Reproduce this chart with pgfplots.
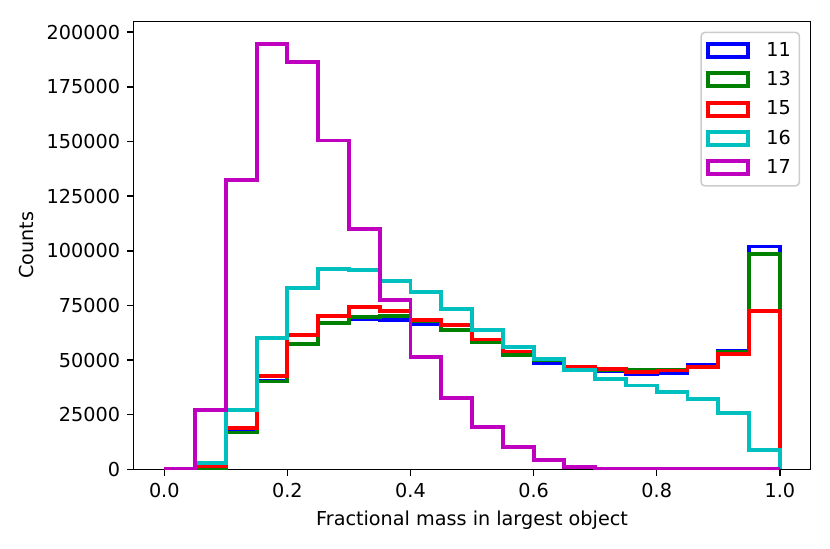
\documentclass[border=0pt]{standalone}
\usepackage{pgfplots}
\pgfplotsset{compat=1.18}
\usepackage{pgfplotstable}
\usepackage{fontspec}
\setmainfont{DejaVu Sans}
\definecolor{mblue}{rgb}{0,0,1}
\definecolor{mgreen}{rgb}{0,0.5,0}
\definecolor{mred}{rgb}{1,0,0}
\definecolor{mcyan}{rgb}{0,0.75,0.75}
\definecolor{mmag}{rgb}{0.75,0,0.75}
\pgfplotstableread{
x     b      g      r      c      m
0.00  0      0      0      0      0
0.00  0      0      0      0      0
0.05  800    800    1400   2900   27000
0.10  17000  16900  19000  27300  132400
0.15  40300  40200  42800  60000  194800
0.20  57600  57400  61500  82800  186400
0.25  66800  66800  70200  91600  150500
0.30  68600  69900  74100  91200  110000
0.35  68500  70000  72600  86300  77500
0.40  66500  67700  68500  81300  51500
0.45  63500  63900  66000  73400  32600
0.50  58100  58100  59400  63800  19300
0.55  53000  52500  53900  55800  10200
0.60  48500  49800  50500  50500  4100
0.65  46500  46000  47000  45500  1000
0.70  45000  45500  45800  41400  300
0.75  43400  45500  44400  38350  100
0.80  44000  45500  45200  35300  50
0.85  47900  46700  46700  32300  20
0.90  54000  53900  52800  25700  10
0.95  102000 98500  72600  9000   0
1.00  102000 98500  72600  9000   0
1.00  0      0      0      0      0
}\hist
\begin{document}
\fontsize{10}{12}\selectfont
\begin{tikzpicture}
\useasboundingbox (-69.5pt,-41pt) rectangle (362.5pt,244.3pt);
\begin{axis}[
  at={(0pt,0pt)}, anchor=south west,
  scale only axis, width=352.4pt, height=233.2pt,
  xmin=-0.05, xmax=1.05, ymin=0, ymax=205000,
  axis line style={line width=0.8pt},
  tick align=outside, xtick pos=left, ytick pos=left,
  major tick length=3.5pt,
  every tick/.style={line width=0.8pt, black},
  xtick={0,0.2,0.4,0.6,0.8,1.0},
  ytick={0,25000,50000,75000,100000,125000,150000,175000,200000},
  scaled y ticks=false,
  /pgf/number format/assume math mode=true,
  yticklabel style={/pgf/number format/fixed, /pgf/number format/1000 sep={}},
  xticklabel style={/pgf/number format/fixed, /pgf/number format/fixed zerofill, /pgf/number format/precision=1},
  ticklabel style={font=\fontsize{10}{12}\selectfont},
  label style={font=\fontsize{10}{12}\selectfont},
  xlabel={Fractional mass in largest object},
  ylabel={Counts},
  legend style={at={(1,1)}, anchor=north east, xshift=-5.4pt, yshift=-5.4pt,
    draw=black!20, rounded corners=2pt, line width=0.8pt,
    font=\fontsize{10}{12}\selectfont, row sep=2.4pt, inner xsep=2.5pt, inner ysep=3pt},
  legend cell align=left,
  legend image code/.code={\draw[#1, sharp corners, line join=miter, line width=2pt] (0pt,-3.4pt) rectangle (20.8pt,3.4pt); \path (27.5pt,0pt);},
  every axis plot/.append style={line width=2pt, const plot, mark=none},
]
\addplot[mblue] table[x=x,y=b] {\hist};
\addlegendentry{11}
\addplot[mgreen] table[x=x,y=g] {\hist};
\addlegendentry{13}
\addplot[mred] table[x=x,y=r] {\hist};
\addlegendentry{15}
\addplot[mcyan] table[x=x,y=c] {\hist};
\addlegendentry{16}
\addplot[mmag] table[x=x,y=m] {\hist};
\addlegendentry{17}
\end{axis}
\end{tikzpicture}
\end{document}
